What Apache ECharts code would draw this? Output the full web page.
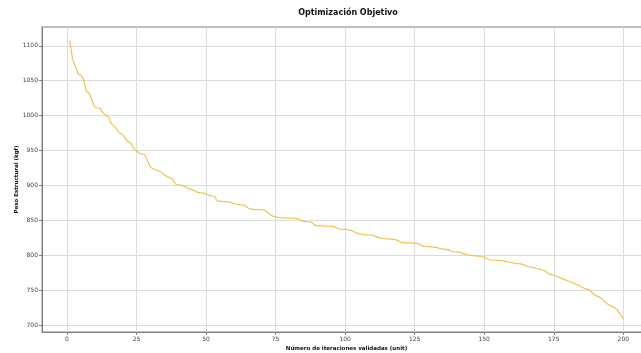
<!DOCTYPE html>
<html>
<head>
<meta charset="utf-8">
<script src="https://cdn.jsdelivr.net/npm/echarts@6/dist/echarts.min.js"></script>
<style>
  html, body { margin: 0; padding: 0; background: #fff; }
  #chart { width: 641px; height: 353px; }
</style>
</head>
<body>
<div id="chart"></div>
<script>
// peso estructural (kgf) por iteración validada, iteraciones 1..200
var pesoValues = [
  1107, 1082, 1071, 1060, 1058, 1052, 1035, 1032, 1022, 1012,
  1011, 1010, 1004, 1000, 998, 988, 985, 980, 975, 973,
  967, 963, 960, 953, 950, 946, 945, 944, 935, 926,
  924, 922, 921, 919, 915, 913, 911, 909, 902, 901,
  900.5, 899, 897, 895, 894, 892, 890, 889.5, 889, 888,
  886, 885, 884.5, 878, 877.5, 877, 876.8, 876.5, 875.5, 874,
  873, 872.5, 872, 871, 868, 866, 865.8, 865.5, 865.2, 865,
  864.5, 862, 858, 856, 855, 854.2, 853.8, 853.6, 853.4, 853.2,
  853, 852.8, 852.5, 850, 848.5, 848.2, 848, 847, 843.5, 842.5,
  842.3, 842, 841.8, 841.5, 841.3, 841, 839, 837.5, 837.2, 837,
  836.5, 836, 834, 832, 831, 830, 829.5, 829.2, 829, 828.5,
  827, 825.5, 824.5, 824, 823.5, 823.2, 823, 822.5, 821, 818.5,
  818, 817.8, 817.6, 817.4, 817.2, 817, 815, 813, 812.5, 812.2,
  812, 811.5, 811, 809.5, 809, 808.5, 808, 806, 805, 804.8,
  804.3, 803, 801.5, 800.5, 800, 799.5, 799, 798.8, 798.5, 797.5,
  795, 793.5, 793, 792.8, 792.5, 792.2, 791.5, 790.8, 790.3, 789.5,
  788.5, 788, 787.5, 787, 784.5, 783.5, 783, 782, 781, 780,
  778.5, 777.5, 773.5, 772.5, 771.3, 770, 768, 766.5, 765, 763.5,
  762, 760.5, 758.5, 757, 754.5, 752.5, 751.5, 750, 745, 742.5,
  740.5, 738.5, 735, 731, 728.5, 726.5, 724.5, 721, 715, 709
];
var xTicks = [0, 25, 50, 75, 100, 125, 150, 175, 200];
var yTicks = [700, 750, 800, 850, 900, 950, 1000, 1050, 1100];

var points = pesoValues.map(function (v, i) { return [i + 1, v]; });

var font = 'DejaVu Sans';
var myChart = echarts.init(document.getElementById('chart'));

var option = {
    backgroundColor: '#ffffff',
    animation: false,
    title: {
        text: 'Optimización Objetivo',
        left: 343,
        top: 4,
        textAlign: 'center',
        textStyle: { fontFamily: font, fontSize: 8, fontWeight: 'bold', color: '#111' }
    },
    grid: {
        show: true,
        left: 42,
        top: 27,
        width: 609,
        height: 305,
        outerBoundsMode: 'none',
        containLabel: false,
        borderColor: '#808080',
        borderWidth: 1
    },
    xAxis: {
        type: 'value',
        min: -8.95,
        max: 209.95,
        name: 'Número de iteraciones validadas (unit)',
        nameLocation: 'middle',
        nameGap: 14,
        nameMoveOverlap: false,
        nameTextStyle: { fontFamily: font, fontSize: 5.5, fontWeight: 'bold', color: '#111' },
        axisLine: { show: true, onZero: false, lineStyle: { color: '#808080', width: 1 } },
        axisTick: { show: true, length: 3, customValues: xTicks, lineStyle: { color: '#808080' } },
        axisLabel: {
            customValues: xTicks,
            formatter: function (v) { return String(v); },
            fontFamily: font, fontSize: 6, color: '#444', margin: 4
        },
        splitLine: { show: true, lineStyle: { color: '#dcdcdc', width: 1 } }
    },
    yAxis: {
        type: 'value',
        min: 690,
        max: 1127,
        name: 'Peso Estructural (kgf)',
        nameLocation: 'middle',
        nameGap: 22,
        nameMoveOverlap: false,
        nameTextStyle: { fontFamily: font, fontSize: 5.5, fontWeight: 'bold', color: '#111' },
        axisLine: { show: true, onZero: false, lineStyle: { color: '#808080', width: 1 } },
        axisTick: { show: true, length: 3, customValues: yTicks, lineStyle: { color: '#808080' } },
        axisLabel: {
            customValues: yTicks,
            formatter: function (v) { return String(v); },
            fontFamily: font, fontSize: 6, color: '#444', margin: 4
        },
        splitLine: { show: true, lineStyle: { color: '#dcdcdc', width: 1 } }
    },
    series: [{
        type: 'line',
        data: points,
        showSymbol: false,
        lineStyle: { color: '#f2c14e', width: 1.2 },
        itemStyle: { color: '#f2c14e' }
    }]
};

myChart.setOption(option);
</script>
</body>
</html>
